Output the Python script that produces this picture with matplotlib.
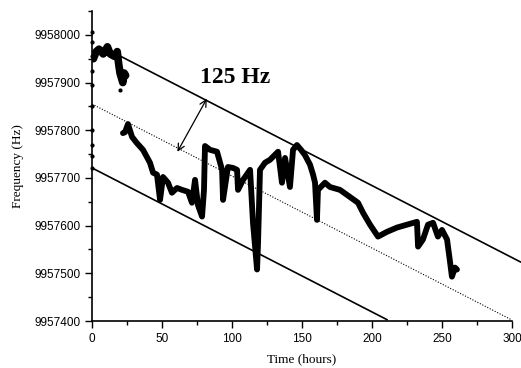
import numpy as np
import matplotlib.pyplot as plt
from matplotlib.ticker import MultipleLocator, FuncFormatter

# data
t_start = [1, 3, 5, 8, 11, 13, 16, 18, 19, 20, 21, 22, 23, 24]
f_start = [9957950, 9957965, 9957970, 9957960, 9957975, 9957960, 9957955,
           9957965, 9957940, 9957920, 9957910, 9957900, 9957920, 9957915]
t_edge = [0, 0, 0, 0, 0, 0, 0, 0, 0, 0, 20]
f_edge = [9958005, 9957985, 9957955, 9957925, 9957895, 9957850, 9957800,
          9957770, 9957745, 9957720, 9957885]

t_main = [22.1, 23.6, 25.7, 28.6, 32.1, 36.4, 41.4, 43.6, 46.4, 48.6, 50.7,
          54.3, 57.1, 60.7, 64.3, 68.6, 71.4, 73.6, 75.7, 78.6, 80.0, 80.7,
          84.3, 89.3, 92.9, 93.6, 97.1, 100.7, 103.6, 104.3, 107.9, 112.9,
          115.0, 117.9, 118.6, 120.0, 123.6, 127.1, 132.9, 135.7, 137.9,
          141.4, 143.6, 146.4, 149.3, 152.1, 155.7, 157.9, 159.3, 160.7,
          161.4, 166.4, 170.0, 177.1, 184.3, 190.0, 193.6, 198.6, 204.3,
          210.7, 217.9, 225.0, 232.1, 232.9, 236.4, 240.0, 243.6, 247.1,
          250.0, 253.6, 255.7, 257.1, 259.3, 260.7]
f_main = [9957794, 9957796, 9957813, 9957786, 9957773, 9957759, 9957732,
          9957711, 9957707, 9957654, 9957702, 9957690, 9957669, 9957679,
          9957675, 9957671, 9957648, 9957696, 9957643, 9957619, 9957675,
          9957767, 9957759, 9957755, 9957717, 9957654, 9957723, 9957721,
          9957717, 9957675, 9957696, 9957717, 9957606, 9957508, 9957564,
          9957717, 9957732, 9957738, 9957755, 9957690, 9957742, 9957681,
          9957759, 9957769, 9957759, 9957748, 9957728, 9957707, 9957690,
          9957612, 9957675, 9957690, 9957681, 9957675, 9957660, 9957648,
          9957627, 9957602, 9957577, 9957587, 9957596, 9957602, 9957608,
          9957556, 9957571, 9957602, 9957606, 9957577, 9957591, 9957571,
          9957525, 9957493, 9957512, 9957508]

# drift lines (Hz/hour) and their offsets at t=0
slope = -1.51
f0_upper, f0_mid, f0_lower = 9957986, 9957855, 9957721
t_upper = [10.7, 306]
t_mid = [0, 300]
t_lower = [0, 210.7]

fig = plt.figure(figsize=(5.21, 3.68), dpi=100)
ax = fig.add_axes([0.1766, 0.1277, 0.8061, 0.8423])

ax.plot(t_main, f_main, color='black', lw=4.2, solid_joinstyle='round',
        solid_capstyle='round')
ax.plot(t_start, f_start, color='black', lw=5.5, solid_joinstyle='round',
        solid_capstyle='round')
ax.plot(t_edge, f_edge, 'o', color='black', ms=2, clip_on=False)

tu = np.array(t_upper)
ax.plot(tu, f0_upper + slope * tu, color='black', lw=1.2, clip_on=False)
tm = np.array(t_mid)
ax.plot(tm, f0_mid + slope * tm, color='black', lw=0.8, ls=(0, (1, 1.5)))
tl = np.array(t_lower)
ax.plot(tl, f0_lower + slope * tl, color='black', lw=1.2)

ax.annotate('', xy=(82, 9957990 + slope * 82), xytext=(61, 9957855 + slope * 61 - 8),
            arrowprops=dict(arrowstyle='<->', lw=0.9, color='black',
                            shrinkA=0, shrinkB=0, mutation_scale=12))
ax.text(102, 9957910, '125 Hz', family='Liberation Serif', weight='bold',
        fontsize=17, ha='center', va='center')

ax.set_xlim(0, 300)
ax.set_ylim(9957400, 9958050)
ax.xaxis.set_major_locator(MultipleLocator(50))
ax.xaxis.set_minor_locator(MultipleLocator(25))
ax.yaxis.set_major_locator(MultipleLocator(100))
ax.yaxis.set_minor_locator(MultipleLocator(50))
ax.yaxis.set_major_formatter(FuncFormatter(lambda v, p: '%d' % v))
ax.tick_params(which='both', direction='out', width=1.0)
ax.tick_params(which='major', length=5, labelsize=8.5)
ax.tick_params(which='minor', length=3)
for lab in ax.get_xticklabels() + ax.get_yticklabels():
    lab.set_family('Liberation Sans')

ax.spines['top'].set_visible(False)
ax.spines['right'].set_visible(False)
ax.spines['left'].set_linewidth(1.2)
ax.spines['bottom'].set_linewidth(1.2)

ax.set_xlabel('Time (hours)', family='Liberation Serif', fontsize=9.5, labelpad=6)
ax.set_ylabel('Frequency (Hz)', family='Liberation Serif', fontsize=9.5, labelpad=7)

fig.savefig('out.png', dpi=100)
